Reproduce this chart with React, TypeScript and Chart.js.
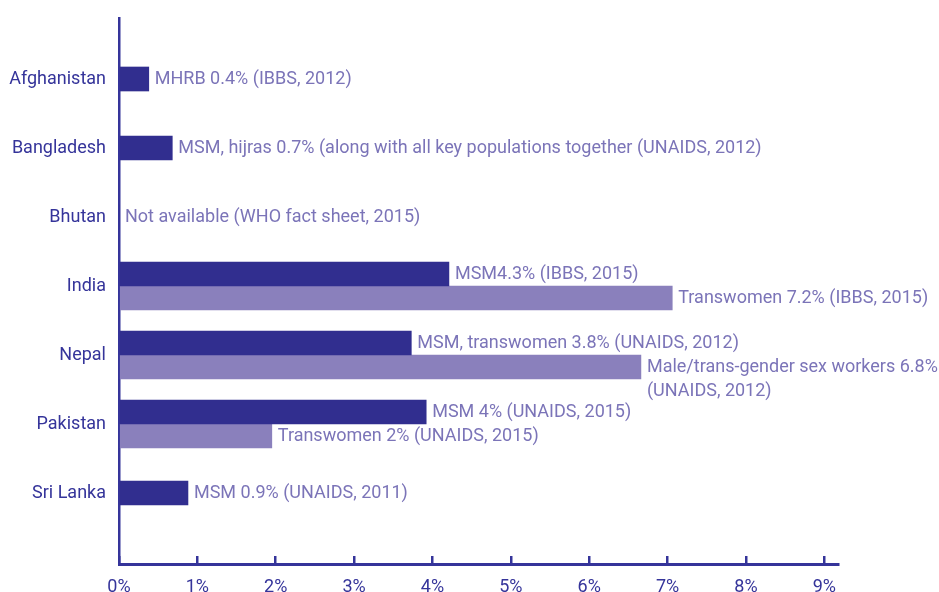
import React, { useEffect, useRef } from "react";
import { Chart, registerables } from "chart.js";

Chart.register(...registerables);

const countries = ["Afghanistan", "Bangladesh", "Bhutan", "India", "Nepal", "Pakistan", "Sri Lanka"];
const primaryValues: (number | null)[] = [0.38, 0.68, 0, 4.21, 3.73, 3.92, 0.88];
const secondaryValues: (number | null)[] = [null, null, null, 7.06, 6.66, 1.95, null];
const primaryLabels: (string | string[] | null)[] = [
  "MHRB 0.4% (IBBS, 2012)",
  "MSM, hijras 0.7% (along with all key populations together (UNAIDS, 2012)",
  "Not available (WHO fact sheet, 2015)",
  "MSM4.3% (IBBS, 2015)",
  "MSM, transwomen 3.8% (UNAIDS, 2012)",
  "MSM 4% (UNAIDS, 2015)",
  "MSM 0.9% (UNAIDS, 2011)",
];
const secondaryLabels: (string | string[] | null)[] = [
  null,
  null,
  null,
  "Transwomen 7.2% (IBBS, 2015)",
  ["Male/trans-gender sex workers 6.8%", "(UNAIDS, 2012)"],
  "Transwomen 2% (UNAIDS, 2015)",
  null,
];
const xTicks = [0, 1, 2, 3, 4, 5, 6, 7, 8, 9];

const DARK = "#312e8f";
const LIGHT = "#8a80bc";
const AXIS = "#35349a";
const LABEL = "#7b74b8";

const valueLabelPlugin = {
  id: "valueLabels",
  afterDatasetsDraw(chart: any) {
    const ctx = chart.ctx;
    const allLabels = [primaryLabels, secondaryLabels];
    ctx.save();
    ctx.font = "18px Roboto";
    ctx.fillStyle = LABEL;
    ctx.textAlign = "left";
    ctx.textBaseline = "middle";
    chart.data.datasets.forEach((ds: any, di: number) => {
      const meta = chart.getDatasetMeta(di);
      meta.data.forEach((el: any, i: number) => {
        const lbl = allLabels[di][i];
        if (lbl == null || ds.data[i].x == null) return;
        const lines = Array.isArray(lbl) ? lbl : [lbl];
        lines.forEach((line, li) => {
          ctx.fillText(line, el.x + 6, el.y + li * 24);
        });
      });
    });
    ctx.restore();
  },
};

export default function App() {
  const ref = useRef<HTMLCanvasElement>(null);
  useEffect(() => {
    if (!ref.current) return;
    Chart.defaults.font.family = "Roboto";
    const chart = new Chart(ref.current, {
      type: "bar",
      data: {
        datasets: [
          {
            label: "Primary",
            data: primaryValues.map((v, i) => ({ x: v, y: i })) as any,
            backgroundColor: DARK,
            barThickness: 24,
            skipNull: true,
          } as any,
          {
            label: "Secondary",
            data: secondaryValues.map((v, i) => ({ x: v, y: i })) as any,
            backgroundColor: LIGHT,
            barThickness: 24,
            skipNull: true,
          } as any,
        ],
      },
      options: {
        indexAxis: "y",
        responsive: false,
        animation: false,
        layout: { padding: { top: 18, right: 101, left: 0, bottom: 0 } },
        plugins: { legend: { display: false }, tooltip: { enabled: false } },
        scales: {
          x: {
            type: "linear",
            position: "bottom",
            min: 0,
            max: 9.175,
            afterBuildTicks: (scale: any) => {
              scale.ticks = xTicks.map((v) => ({ value: v }));
            },
            afterFit: (scale: any) => {
              scale.height = 28;
              scale.paddingLeft = 0;
              scale.paddingRight = 0;
              scale.paddingTop = 0;
              scale.paddingBottom = 0;
            },
            ticks: {
              autoSkip: false,
              color: AXIS,
              font: { size: 18 },
              padding: 21,
              maxRotation: 0,
              callback: (v: any) => `${v}%`,
            },
            grid: {
              display: true,
              drawOnChartArea: false,
              drawTicks: true,
              tickLength: -8,
              color: AXIS,
              lineWidth: 2.5,
            },
            border: { display: true, color: AXIS, width: 3 },
          },
          y: {
            type: "linear",
            position: "left",
            reverse: true,
            offset: false,
            min: -61 / 69,
            max: -61 / 69 + 546 / 69,
            afterBuildTicks: (scale: any) => {
              scale.ticks = countries.map((_, i) => ({ value: i }));
            },
            afterFit: (scale: any) => {
              scale.width = 119;
              scale.paddingLeft = 0;
              scale.paddingRight = 0;
              scale.paddingTop = 0;
              scale.paddingBottom = 0;
            },
            ticks: {
              autoSkip: false,
              color: AXIS,
              font: { size: 18 },
              padding: 13,
              callback: (_v: any, i: number) => countries[i],
            },
            grid: { display: false, drawTicks: false },
            border: { display: true, color: AXIS, width: 2.5 },
          },
        },
      },
      plugins: [valueLabelPlugin],
    } as any);
    return () => chart.destroy();
  }, []);
  return (
    <div style={{ position: "absolute", left: 0, top: 0, width: 939, height: 592, background: "#fff" }}>
      <canvas ref={ref} width={939} height={592} />
    </div>
  );
}
